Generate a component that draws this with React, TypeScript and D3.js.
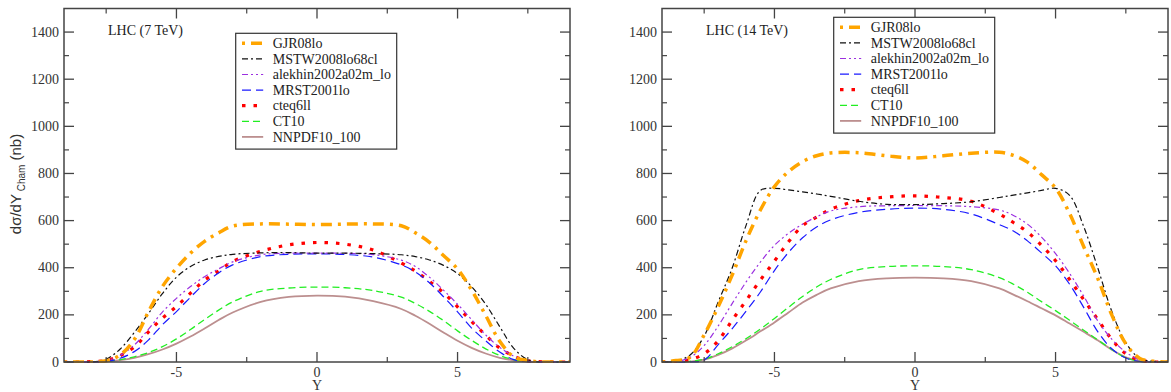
import React from 'react'
import * as d3 from 'd3'

// rapidity grid shared by every curve
const rapidity = [-9, -8.5, -8, -7.5, -7, -6.5, -6, -5.5, -5, -4.5, -4, -3.5, -3, -2, -1, 0, 1, 2, 3, 3.5, 4, 4.5, 5, 5.5, 6, 6.5, 7, 7.5, 8, 8.5, 9]

const seriesNames = ['GJR08lo', 'MSTW2008lo68cl', 'alekhin2002a02m_lo', 'MRST2001lo', 'cteq6ll', 'CT10', 'NNPDF10_100']

// LHC 7 TeV, dsigma/dY in nb
const gjr7 = [0, 0, 0, 5, 30, 95, 212, 320, 398, 462, 512, 548, 577, 586, 585, 583, 585, 586, 578, 548, 508, 452, 395, 305, 198, 88, 22, 6, 0, 0, 0]
const mstw7 = [0, 0, 0, 12, 55, 125, 205, 290, 360, 405, 433, 448, 457, 463, 464, 462, 462, 460, 455, 447, 433, 410, 375, 320, 245, 150, 58, 10, 0, 0, 0]
const alekhin7 = [0, 0, 0, 5, 28, 72, 138, 212, 270, 320, 362, 395, 425, 455, 462, 462, 461, 456, 432, 405, 360, 305, 245, 180, 115, 62, 25, 5, 0, 0, 0]
const mrst7 = [0, 0, 0, 2, 16, 44, 93, 158, 214, 275, 333, 378, 412, 447, 457, 459, 456, 445, 412, 382, 336, 277, 213, 144, 90, 42, 10, 2, 0, 0, 0]
const cteq7 = [0, 0, 2, 6, 27, 63, 127, 186, 236, 292, 347, 386, 426, 470, 497, 507, 500, 475, 420, 386, 342, 294, 234, 172, 114, 59, 25, 5, 1, 0, 0]
const ct10_7 = [0, 0, 0, 3, 10, 22, 40, 65, 98, 138, 180, 220, 255, 300, 314, 318, 315, 303, 275, 248, 215, 176, 132, 92, 56, 28, 10, 3, 0, 0, 0]
const nnpdf7 = [0, 0, 0, 2, 8, 18, 33, 53, 78, 108, 142, 178, 210, 255, 276, 282, 277, 258, 225, 196, 162, 125, 90, 60, 36, 18, 7, 1, 0, 0, 0]

// LHC 14 TeV
const gjr14 = [0, 6, 20, 115, 235, 370, 518, 645, 744, 808, 850, 875, 887, 888, 875, 866, 875, 886, 890, 877, 848, 795, 738, 630, 490, 355, 200, 77, 15, 3, 0]
const mstw14 = [0, 5, 30, 110, 255, 400, 583, 728, 737, 730, 722, 713, 703, 682, 669, 668, 672, 680, 698, 708, 718, 728, 737, 707, 575, 400, 215, 82, 15, 3, 0]
const alekhin14 = [0, 2, 20, 70, 153, 249, 341, 424, 495, 546, 585, 616, 641, 659, 663, 664, 663, 659, 645, 622, 585, 530, 460, 376, 280, 175, 97, 42, 8, 0, 0]
const mrst14 = [0, 0, 0, 8, 74, 142, 217, 297, 388, 465, 527, 573, 603, 635, 648, 653, 648, 628, 583, 556, 514, 463, 408, 330, 232, 129, 56, 17, 2, 0, 0]
const cteq14 = [0, 2, 10, 35, 90, 178, 262, 348, 428, 510, 578, 615, 648, 685, 700, 705, 698, 682, 628, 592, 552, 495, 430, 350, 265, 181, 96, 35, 8, 0, 0]
const ct10_14 = [0, 0, 3, 12, 35, 65, 100, 140, 185, 232, 278, 318, 350, 392, 405, 408, 405, 392, 358, 330, 296, 256, 218, 177, 135, 94, 53, 18, 3, 0, 0]
const nnpdf14 = [0, 0, 2, 10, 30, 58, 92, 130, 168, 210, 252, 285, 312, 343, 355, 358, 355, 343, 312, 286, 258, 228, 198, 163, 128, 92, 52, 20, 4, 0, 0]

const xMajorTicks = [-5, 0, 5]
const xMinorTicks = [-7.5, -2.5, 2.5, 7.5]
const yMajorTicks = [0, 200, 400, 600, 800, 1000, 1200, 1400]
const yMinorTicks = [100, 300, 500, 700, 900, 1100, 1300]

// line styles, in legend order
const styles = [
  { color: '#ffa500', width: 3.5, dash: '3,6,11,6' },
  { color: '#111111', width: 1.2, dash: '6,3,2,3' },
  { color: '#9b30e0', width: 1.2, dash: '6,3,2,3,2,3' },
  { color: '#1a1aff', width: 1.2, dash: '9,5' },
  { color: '#ff0000', width: 3.2, dash: '3.5,8' },
  { color: '#22ee22', width: 1.3, dash: '7,4' },
  { color: '#bc8f8f', width: 1.8, dash: 'none' },
]

const panels = [
  { id: 'p7', title: 'LHC (7 TeV)', left: 64, legendTop: 33.3, yLabel: true, values: [gjr7, mstw7, alekhin7, mrst7, cteq7, ct10_7, nnpdf7] },
  { id: 'p14', title: 'LHC (14 TeV)', left: 662, legendTop: 17.3, yLabel: false, values: [gjr14, mstw14, alekhin14, mrst14, cteq14, ct10_14, nnpdf14] },
]

const SERIF = '"Liberation Serif", "Times New Roman", serif'
const SANS = '"Liberation Sans", Arial, sans-serif'
const AXIS = '#444'
const TOP = 8.5
const BOTTOM = 362
const PW = 506

function Panel({ p }: { p: (typeof panels)[number] }) {
  const x = d3.scaleLinear().domain([-9, 9]).range([p.left, p.left + PW])
  const y = d3.scaleLinear().domain([0, 1500]).range([BOTTOM, TOP])
  const line = d3
    .line<number>()
    .x((_, i) => x(rapidity[i]))
    .y((d) => y(d))
    .curve(d3.curveCatmullRom.alpha(0.5))

  const right = p.left + PW
  const lgX = p.left + 171.7
  const rowH = 15.6

  return (
    <g>
      <clipPath id={'clip-' + p.id}>
        <rect x={p.left} y={TOP} width={PW} height={BOTTOM - TOP + 1} />
      </clipPath>
      {/* curves, drawn bottom-up */}
      <g clipPath={`url(#clip-${p.id})`}>
        {p.values
          .map((v, i) => ({ v, i }))
          .reverse()
          .map(({ v, i }) => (
            <path
              key={seriesNames[i]}
              d={line(v) || ''}
              fill="none"
              stroke={styles[i].color}
              strokeWidth={styles[i].width}
              strokeDasharray={styles[i].dash}
            />
          ))}
      </g>

      {/* frame */}
      <rect x={p.left} y={TOP} width={PW} height={BOTTOM - TOP} fill="none" stroke={AXIS} strokeWidth={1.5} />

      {xMajorTicks.map((t) => (
        <g key={'xM' + t}>
          <line x1={x(t)} x2={x(t)} y1={BOTTOM} y2={BOTTOM - 10} stroke={AXIS} strokeWidth={1.3} />
          <line x1={x(t)} x2={x(t)} y1={TOP} y2={TOP + 10} stroke={AXIS} strokeWidth={1.3} />
          <text x={x(t)} y={377} textAnchor="middle" fontFamily={SERIF} fontSize={14} fill="#333">
            {t < 0 ? '-' + Math.abs(t) : String(t)}
          </text>
        </g>
      ))}
      {xMinorTicks.map((t) => (
        <g key={'xm' + t}>
          <line x1={x(t)} x2={x(t)} y1={BOTTOM} y2={BOTTOM - 5} stroke={AXIS} strokeWidth={1.2} />
          <line x1={x(t)} x2={x(t)} y1={TOP} y2={TOP + 5} stroke={AXIS} strokeWidth={1.2} />
        </g>
      ))}
      {yMajorTicks.map((t) => (
        <g key={'yM' + t}>
          <line x1={p.left} x2={p.left + 10} y1={y(t)} y2={y(t)} stroke={AXIS} strokeWidth={1.3} />
          <line x1={right} x2={right - 10} y1={y(t)} y2={y(t)} stroke={AXIS} strokeWidth={1.3} />
          <text x={p.left - 5} y={y(t) + 4.5} textAnchor="end" fontFamily={SERIF} fontSize={14} fill="#333">
            {t}
          </text>
        </g>
      ))}
      {yMinorTicks.map((t) => (
        <g key={'ym' + t}>
          <line x1={p.left} x2={p.left + 5} y1={y(t)} y2={y(t)} stroke={AXIS} strokeWidth={1.2} />
          <line x1={right} x2={right - 5} y1={y(t)} y2={y(t)} stroke={AXIS} strokeWidth={1.2} />
        </g>
      ))}

      <text x={p.left + 44} y={34.5} fontFamily={SERIF} fontSize={14} fill="#222">
        {p.title}
      </text>

      {/* legend */}
      <rect x={lgX} y={p.legendTop} width={161} height={115.8} fill="#fff" stroke="#333" strokeWidth={1.2} />
      {seriesNames.map((name, i) => {
        const cy = p.legendTop + 10 + i * rowH
        return (
          <g key={'lg' + name}>
            <line
              x1={lgX + 6.3}
              x2={lgX + 27.5}
              y1={cy}
              y2={cy}
              stroke={styles[i].color}
              strokeWidth={styles[i].width}
              strokeDasharray={styles[i].dash}
            />
            <text x={lgX + 37} y={cy + 4.6} fontFamily={SERIF} fontSize={14} fill="#222">
              {name}
            </text>
          </g>
        )
      })}

      <text x={x(0)} y={390} textAnchor="middle" fontFamily={SERIF} fontSize={14} fill="#333">
        Y
      </text>

      {p.yLabel && (
        <text transform="translate(21,184) rotate(-90)" textAnchor="middle" fontFamily={SANS} fontSize={15} fill="#333">
          dσ/dY
          <tspan fontSize={10} dy={4}>
            {' Cham'}
          </tspan>
          <tspan dy={-4}>{' (nb)'}</tspan>
        </text>
      )}
    </g>
  )
}

export default function App() {
  return (
    <div style={{ position: 'absolute', left: 0, top: 0 }}>
      <svg width={1171} height={392} style={{ display: 'block', background: '#fff' }}>
        {panels.map((p) => (
          <Panel key={p.id} p={p} />
        ))}
      </svg>
    </div>
  )
}
